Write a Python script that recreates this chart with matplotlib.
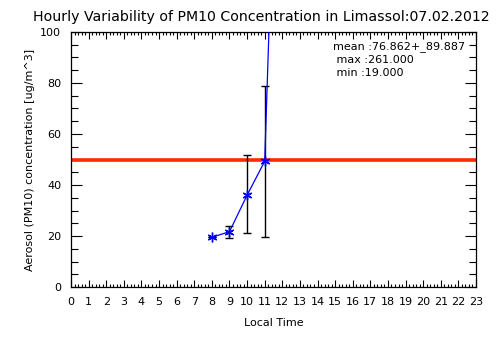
import matplotlib
matplotlib.use('Agg')
import matplotlib.pyplot as plt
from matplotlib.ticker import MultipleLocator

# hourly PM10 means and min/max range
hours = [8, 9, 10, 11, 12]
pm10 = [19.5, 21.7, 36.0, 49.3, 261.0]
pm10_low = [19.5, 19.2, 21.0, 19.5, 261.0]
pm10_high = [19.5, 23.8, 51.8, 79.0, 261.0]
limit = 50
stats_text = ['mean :76.862+_89.887', ' max :261.000', ' min :19.000']
x_ticks = list(range(0, 24))

fig = plt.figure(figsize=(5.04, 3.61), dpi=100)
ax = fig.add_axes([71/504, 1-287/361, 405/504, 255/361])

ax.axhline(limit, color='#ff2a00', linewidth=2.6, zorder=2)

yerr = [[m - lo for m, lo in zip(pm10, pm10_low)],
        [hi - m for m, hi in zip(pm10, pm10_high)]]
ax.errorbar(hours, pm10, yerr=yerr, fmt='none', ecolor='black',
            elinewidth=1, capsize=3, capthick=1, zorder=3)
ax.plot(hours, pm10, color='blue', linewidth=0.9, marker=(6, 2, 0),
        markersize=7, markeredgewidth=1, zorder=4)

ax.set_xlim(0, 23)
ax.set_ylim(0, 100)
ax.set_xticks(x_ticks)
ax.xaxis.set_minor_locator(MultipleLocator(0.2))
ax.yaxis.set_major_locator(MultipleLocator(20))
ax.yaxis.set_minor_locator(MultipleLocator(5))
ax.tick_params(which='both', direction='in', top=True, right=True,
               labelsize=8, pad=7, width=0.8)
ax.tick_params(which='major', length=5)
ax.tick_params(which='minor', length=2.5)
ax.tick_params(axis='y', which='minor', length=5)
ax.tick_params(axis='y', which='major', length=8)
for s in ax.spines.values():
    s.set_linewidth(0.9)

ax.set_xlabel('Local Time', fontsize=8, labelpad=8)
ax.set_ylabel('Aerosol (PM10) concentration [ug/m^3]', fontsize=8, labelpad=4)
fig.text(33/504, 1-17/361, 'Hourly Variability of PM10 Concentration in Limassol:07.02.2012',
         fontsize=10.2, va='center', ha='left')

for i, t in enumerate(stats_text):
    fig.text(333/504, 1 - (47 + 13*i)/361, t, fontsize=8, va='center', ha='left')

fig.savefig('out.png', dpi=100)
